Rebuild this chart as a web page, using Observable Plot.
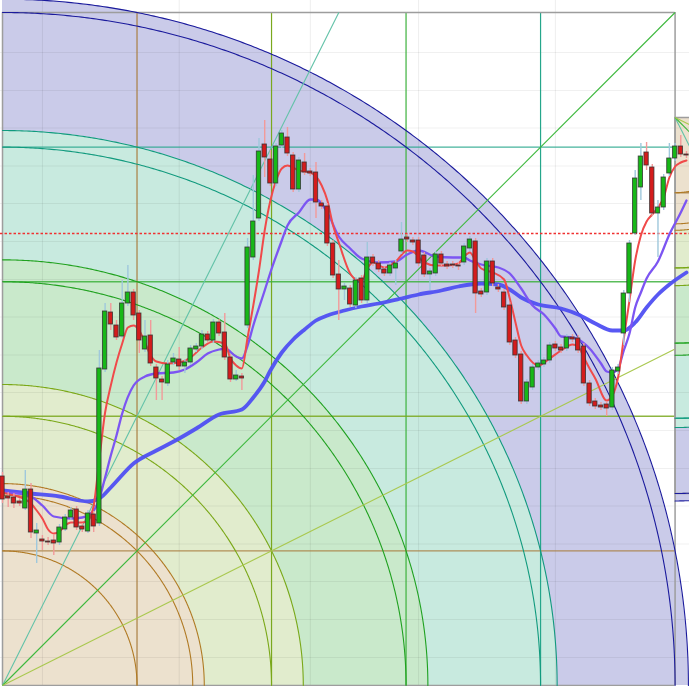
<!DOCTYPE html>
<html>
<head>
<meta charset="utf-8">
<script src="https://cdn.jsdelivr.net/npm/d3@7"></script>
<script src="https://cdn.jsdelivr.net/npm/@observablehq/plot@0.6"></script>
<style>
html,body{margin:0;padding:0;background:#fff;overflow:hidden}
#chart svg{display:block}
</style>
</head>
<body>
<div id="chart"></div>
<script>
// ---- Candles (bar index = array position) ----
const open = [104.8,100.8,100.6,99.8,98.4,102.2,93.4,92.2,91.8,92.0,
  91.6,94.2,96.6,98.2,94.8,93.8,97.2,95.4,126.2,137.6,
  135.0,132.8,139.4,141.6,137.4,130.2,133.0,126.6,124.2,123.4,
  127.6,128.2,126.8,127.6,130.2,130.8,133.2,132.0,135.6,133.6,
  128.6,124.2,124.8,135.0,148.6,156.4,171.2,168.2,163.4,171.0,
  172.6,169.0,162.2,167.6,165.8,165.6,159.4,158.8,151.4,145.2,
  142.2,142.4,139.0,144.4,140.0,148.6,147.4,146.2,145.4,146.4,
  149.8,152.6,152.0,152.0,149.0,145.2,145.4,149.2,147.2,147.2,
  147.0,147.6,150.4,151.8,141.8,141.6,147.8,142.6,141.6,139.0,
  132.0,129.2,119.8,122.6,126.6,127.2,128.0,131.2,130.6,130.4,
  132.6,132.4,130.8,123.4,119.8,119.0,119.2,118.6,125.8,133.4,
  141.4,153.4,162.6,169.6,166.6,157.4,158.6,165.4,168.4,170.8,
  169.2];
const high = [105.6,101.6,101.4,100.4,106.0,103.4,95.4,93.0,92.6,93.0,
  95.2,97.2,98.6,98.8,95.4,98.0,97.8,130.0,139.4,139.4,
  136.0,144.0,147.0,142.2,138.0,136.0,136.0,127.2,124.8,128.0,
  129.4,130.6,128.2,131.0,131.4,134.0,133.8,136.2,136.2,137.4,
  129.2,126.0,125.4,152.4,165.0,172.4,176.0,170.0,171.4,174.0,
  174.6,169.6,168.6,169.4,166.4,167.6,160.0,159.4,152.0,148.0,
  143.4,143.0,144.6,145.0,151.6,149.2,148.0,146.8,147.6,148.0,
  155.6,153.2,152.6,152.6,149.6,146.4,149.8,149.8,147.8,147.8,
  147.6,151.4,152.8,152.4,142.4,148.4,148.4,143.2,142.2,139.6,
  132.6,129.8,124.2,127.2,128.0,128.6,131.6,131.8,131.2,133.2,
  133.2,133.0,131.4,124.0,120.4,119.6,119.8,126.6,127.2,142.0,
  152.0,166.0,171.4,171.6,167.2,160.0,165.2,171.4,171.4,173.0,
  169.8];
const low = [99.4,98.6,98.4,98.8,98.0,92.4,87.4,90.0,91.0,89.0,
  91.0,93.8,96.0,94.0,93.6,93.4,93.6,94.8,125.6,134.0,
  132.0,132.4,138.8,136.0,129.4,129.6,126.8,120.0,120.0,122.8,
  127.0,126.0,125.4,127.0,129.6,130.2,131.4,131.4,132.8,128.0,
  123.6,123.8,122.0,134.4,148.0,155.8,164.6,162.8,162.8,170.4,
  168.8,161.6,161.6,165.0,164.8,156.4,158.2,150.8,144.4,136.0,
  140.0,138.6,138.4,139.4,139.4,146.8,145.6,144.8,144.8,143.0,
  149.2,151.6,151.0,146.8,144.6,142.0,144.8,146.8,146.2,146.4,
  146.0,147.0,149.8,137.4,140.6,141.0,142.8,141.6,138.0,131.0,
  128.4,119.2,119.2,122.0,126.0,126.6,127.4,129.8,129.4,129.8,
  131.6,129.4,122.8,118.8,118.2,118.0,116.8,118.0,125.2,131.0,
  139.6,153.0,160.0,166.0,156.8,148.6,158.0,164.8,167.8,168.6,
  168.4];
const close = [100.2,100.4,99.4,99.4,102.2,93.6,94.0,91.8,91.6,91.4,
  94.6,96.6,98.0,94.6,94.2,97.4,94.8,126.4,137.8,135.2,
  132.6,139.4,141.6,137.0,132.0,132.8,127.4,124.4,123.6,127.2,
  128.4,126.8,127.6,130.4,130.8,133.2,132.0,135.6,133.4,128.6,
  124.2,125.0,124.4,150.6,155.8,169.8,168.6,163.4,170.8,173.4,
  169.4,162.2,168.0,165.6,165.4,159.6,158.8,151.4,145.0,142.2,
  142.8,139.2,144.0,140.0,148.6,147.4,146.2,145.4,147.0,147.4,
  152.2,152.2,151.6,147.4,145.2,145.8,149.2,147.4,146.8,147.0,
  146.8,150.8,152.2,141.4,141.2,147.8,143.4,142.2,138.6,131.6,
  129.0,119.8,123.6,126.6,127.4,128.0,131.0,130.4,130.0,132.6,
  132.2,130.0,123.4,119.4,118.8,118.6,118.4,126.0,126.6,141.4,
  151.4,164.4,168.8,167.0,157.4,158.6,164.6,168.4,170.8,169.2,
  169.0];

// ---- Moving averages (bar index, value) ----
const fastBars = [0,2,4,5,6,7,8,9,10,11,12,14,15,16,17,18,19,20,21,22,23,24,25,26,27,29,31,33,35,37,39,40,41,42,43,44,45,46,47,48,49,50,52,54,56,57,58,59,61,62,63,64,65,67,69,71,72,74,76,78,80,81,82,83,84,86,88,89,90,91,92,94,96,98,100,101,102,103,104,106,107,108,109,110,111,112,113,114,115,116,117,118,119,120];
const fastVals = [101.6,101.0,100.2,99.4,98.0,96.4,94.2,93.4,93.8,95.0,95.6,95.6,96.0,99.0,108.4,117.6,123.0,127.6,131.4,134.6,135.0,134.0,131.6,129.0,127.8,127.4,127.6,128.6,130.6,131.8,131.4,128.4,127.0,126.4,132.6,139.0,146.0,154.0,160.0,164.0,166.4,167.0,166.0,165.6,163.0,160.0,155.0,151.6,145.4,144.2,144.0,146.4,147.6,146.6,147.8,150.0,149.8,147.6,147.0,147.0,147.4,148.8,149.6,148.0,146.4,145.6,144.2,140.4,135.6,131.0,129.0,127.0,128.4,130.0,131.2,130.8,128.6,126.4,124.4,120.0,121.0,124.6,132.4,140.0,148.0,153.0,155.8,157.2,158.6,160.6,164.6,166.8,167.6,168.0];

const midBars = [0,4,5,7,9,12,14,16,17,18,19,20,21,23,25,27,30,32,34,36,38,39,41,42,43,44,46,47,49,50,52,54,55,57,59,61,63,66,69,71,73,76,79,81,82,84,87,89,91,93,95,97,98,100,101,103,105,106,107,108,109,110,111,112,113,115,117,119,120];
const midVals = [101.6,101.2,100.8,99.0,96.8,96.4,96.6,98.0,100.4,104.6,109.0,113.0,117.4,123.0,124.8,125.4,125.6,126.2,127.6,129.4,130.2,130.4,128.8,128.4,131.0,135.0,142.0,145.6,152.0,155.0,157.6,160.2,160.2,157.6,152.8,150.4,148.4,147.6,147.8,149.2,150.0,148.8,148.6,148.6,148.0,147.2,146.6,145.4,142.4,139.0,137.2,134.4,132.8,132.6,132.2,130.4,127.4,125.8,125.6,126.4,130.0,133.4,138.6,141.6,144.4,147.8,153.2,157.6,160.0];

const slowBars = [0,5,10,15,17,19,23,27,31,34,38,42,44,46,47,49,51,53,55,57,60,63,66,70,73,77,80,84,87,89,91,94,98,101,104,107,109,111,113,115,117,120];
const slowVals = [102.0,101.4,100.8,99.8,100.4,102.6,107.4,110.0,112.4,114.4,117.2,118.2,120.6,123.8,126.0,129.6,132.2,134.2,136.0,137.0,138.0,138.8,139.4,140.4,141.2,142.0,142.8,143.4,143.2,142.2,140.6,139.2,138.4,137.2,135.4,134.0,134.0,135.6,138.6,141.2,143.2,145.6];

const markerPrice = [153.4];           // red dotted horizontal level
const gridBars = [7, 31, 54, 73, 97];  // faint time grid
const gridPrices = [189.6,182.0,174.5,166.9,159.4,151.8,144.2,136.7,129.1,121.6,114.0,106.4,98.9,91.3,83.8,76.2,68.6];

// ---- Gann squares ----
const gannBoxA = {bar0: 0, bar1: 118, price0: 63.0, price1: 197.6};
const gannBoxB = {bar0: 118, bar1: 184, price0: 176.6, price1: 101.4};
const gannLevelKeys = [1, 2, 3, 4];
const gannLevelColors = ["#a97f42", "#7aa81e", "#3db23d", "#25a68b"];
const gannArcPairs = [[1,0],[1,1],[1.5,0],[2,0],[2,1],[3,0],[3,1],[4,0],[4,1],[5,0],[5,1]];
const gannArcColors = ["#b07a24","#b07a24","#b07a24","#7aa818","#7aa818","#1fa11f","#1fa11f","#119a7e","#119a7e","#1a1a9c","#1a1a9c"];
const gannBandOuter = [[5,1],[4,1],[3,1],[2,1],[1.5,0]];
const gannBandFills = ["#cacbe9","#c8eadf","#c9e9cb","#e1eccd","#ece1ce"];
const gannFanPairs = [[1,2],[1,1],[2,1]]; // [bar units, price units]
const gannFanColors = ["#62c2a8","#3cb83c","#a9c84e"];
const gannBorder = "#9d9d9d";

function geom(box){ return {dx:(box.bar1-box.bar0)/5, dy:(box.price1-box.price0)/5}; }
function arcPoints(box, r){
  const {dx, dy} = geom(box);
  return d3.range(0, 361).map(k => {
    const t = (90 - k*0.25) * Math.PI/180;
    return {x: box.bar0 + r*dx*Math.cos(t), y: box.price0 + r*dy*Math.sin(t)};
  });
}
function gannFills(box){
  return gannBandOuter.map(([a,b], j) =>
    Plot.areaY(arcPoints(box, Math.hypot(a,b)), {x:"x", y1: box.price0, y2:"y", fill: gannBandFills[j], clip: true}));
}
function gannLines(box){
  const {dx, dy} = geom(box);
  const m = [];
  m.push(Plot.ruleX(gannLevelKeys, {x: k => box.bar0 + k*dx, y1: box.price0, y2: box.price1,
    stroke: (k,i) => gannLevelColors[i], strokeWidth: 1.2, clip: true}));
  m.push(Plot.ruleY(gannLevelKeys, {y: k => box.price0 + k*dy, x1: box.bar0, x2: box.bar1,
    stroke: (k,i) => gannLevelColors[i], strokeWidth: 1.4, strokeOpacity: 0.85, clip: true}));
  m.push(Plot.ruleX([box.bar0, box.bar1], {y1: box.price0, y2: box.price1, stroke: gannBorder, strokeWidth: 1.5, clip: true}));
  m.push(Plot.ruleY([box.price0, box.price1], {x1: box.bar0, x2: box.bar1, stroke: gannBorder, strokeWidth: 1.5, clip: true}));
  gannArcPairs.forEach(([a,b], j) => {
    m.push(Plot.line(arcPoints(box, Math.hypot(a,b)), {x:"x", y:"y", stroke: gannArcColors[j], strokeWidth: 1.1, clip: true}));
  });
  const fans = gannFanPairs.map(([ux,uy], j) => {
    const t = Math.min(5/ux, 5/uy);
    return {x1: box.bar0, y1: box.price0, x2: box.bar0 + t*ux*dx, y2: box.price0 + t*uy*dy, c: gannFanColors[j]};
  });
  m.push(Plot.link(fans, {x1:"x1", y1:"y1", x2:"x2", y2:"y2", stroke:"c", strokeWidth: 1.1, clip: true}));
  return m;
}

const candles = d3.range(open.length).map(i => ({i, o: open[i], h: high[i], l: low[i], c: close[i]}));
const maLine = (bars, vals) => bars.map((b, k) => ({x: b, y: vals[k]}));

const chart = Plot.plot({
  width: 689, height: 686, margin: 0,
  style: {background: "#ffffff", overflow: "hidden"},
  x: {domain: [-0.351, 120.53], axis: null},
  y: {domain: [62.8, 200], axis: null},
  marks: [
    ...gannFills(gannBoxA),
    ...gannFills(gannBoxB),
    Plot.ruleX(gridBars, {stroke: "#000", strokeOpacity: 0.07}),
    Plot.ruleY(gridPrices, {stroke: "#000", strokeOpacity: 0.06}),
    ...gannLines(gannBoxA),
    ...gannLines(gannBoxB),
    Plot.ruleY(markerPrice, {stroke: "#f03030", strokeWidth: 1.5, strokeDasharray: "2.5,2"}),
    Plot.line(maLine(slowBars, slowVals), {x:"x", y:"y", stroke:"#4f4ff2", strokeWidth: 3.8, curve: "monotone-x", strokeOpacity: 0.95}),
    Plot.line(maLine(midBars, midVals), {x:"x", y:"y", stroke:"#7c55f2", strokeWidth: 2.3, curve: "monotone-x"}),
    Plot.line(maLine(fastBars, fastVals), {x:"x", y:"y", stroke:"#f04a4a", strokeWidth: 2, curve: "monotone-x"}),
    Plot.ruleX(candles, {x: "i", y1: "l", y2: "h", stroke: d => d.c >= d.o ? "#9fc8dc" : "#f29a9a", strokeWidth: 1.4}),
    Plot.rect(candles, {x1: d => d.i - 0.38, x2: d => d.i + 0.38, y1: "o", y2: "c",
      fill: d => d.c >= d.o ? "#17b817" : "#d41c1c", stroke: "#333333", strokeWidth: 0.9, strokeOpacity: 0.85})
  ]
});
document.getElementById("chart").appendChild(chart);
</script>
</body>
</html>
